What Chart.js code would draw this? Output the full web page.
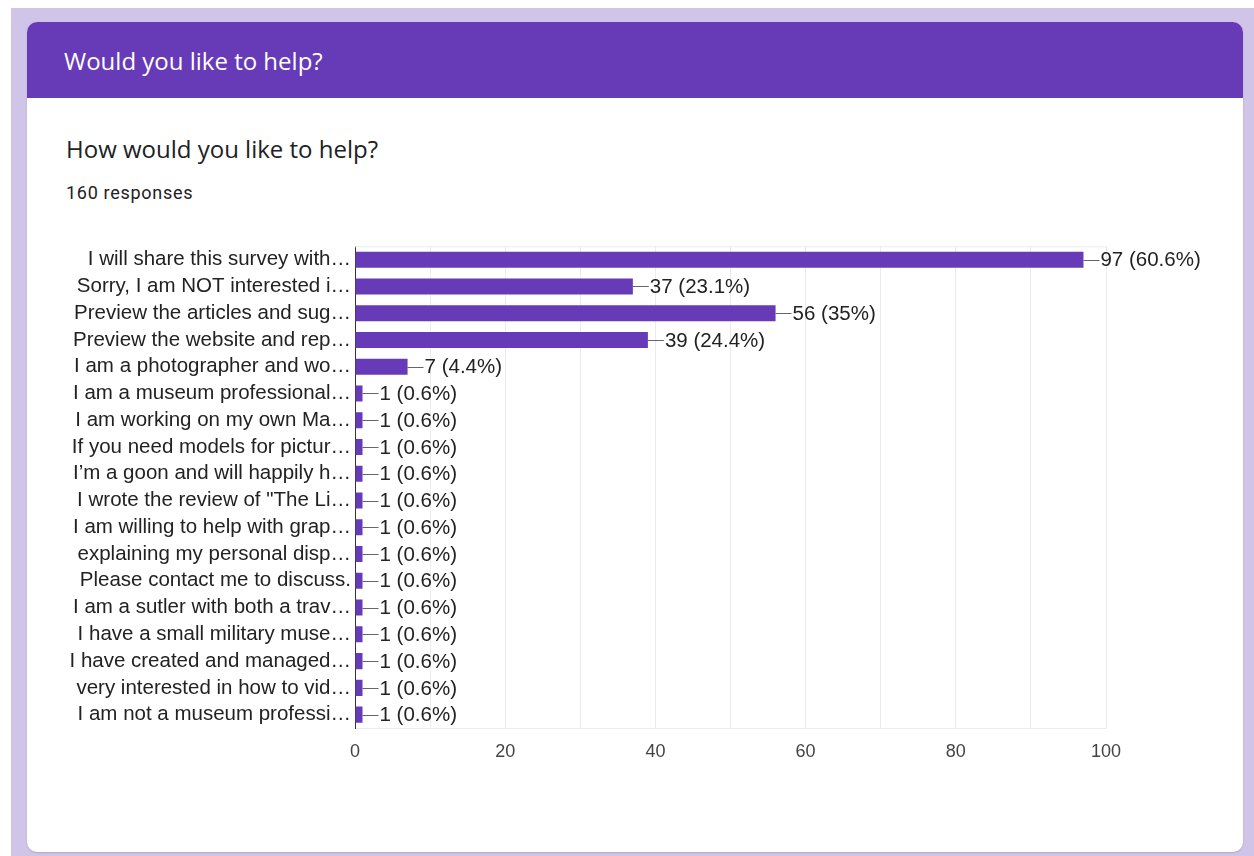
<!DOCTYPE html>
<html><head><meta charset="utf-8">
<script src="https://cdn.jsdelivr.net/npm/chart.js@4"></script>
<style>
html,body{margin:0;padding:0;width:1254px;height:856px;overflow:hidden;background:#fff;}
#bg{position:absolute;left:11px;top:8px;width:1243px;height:848px;background:#d1c4e9;}
#card{position:absolute;left:27px;top:22px;width:1216px;height:830px;background:#fff;border-radius:10px;overflow:hidden;box-shadow:0 1px 2px rgba(0,0,0,0.15);}
#hdr{position:absolute;left:0;top:0;width:100%;height:76px;background:#673ab7;}
#hdr span{position:absolute;left:37px;top:22px;color:#fff;font:24px "Open Sans","Roboto",sans-serif;}
#q{position:absolute;left:39px;top:110px;color:#202124;font:24px "Open Sans","Roboto",sans-serif;}
#r{position:absolute;left:39px;top:160px;color:#202124;font:18px "Roboto",sans-serif;letter-spacing:0.7px;}
#wrap{position:absolute;left:0;top:230px;width:1254px;height:560px;}
</style></head>
<body>
<div id="bg"></div>
<div id="card"><div id="hdr"><span>Would you like to help?</span></div>
<div id="q">How would you like to help?</div>
<div id="r">160 responses</div></div>
<div id="wrap"><canvas id="c" width="1254" height="560"></canvas></div>
<script>
const categories = [
 "I will share this survey with…",
 "Sorry, I am NOT interested i…",
 "Preview the articles and sug…",
 "Preview the website and rep…",
 "I am a photographer and wo…",
 "I am a museum professional…",
 "I am working on my own Ma…",
 "If you need models for pictur…",
 "I’m a goon and will happily h…",
 "I wrote the review of \"The Li…",
 "I am willing to help with grap…",
 "explaining my personal disp…",
 "Please contact me to discuss.",
 "I am a sutler with both a trav…",
 "I have a small military muse…",
 "I have created and managed…",
 "very interested in how to vid…",
 "I am not a museum professi…"
];
const counts = [97,37,56,39,7,1,1,1,1,1,1,1,1,1,1,1,1,1];
const percents = ["60.6%","23.1%","35%","24.4%","4.4%","0.6%","0.6%","0.6%","0.6%","0.6%","0.6%","0.6%","0.6%","0.6%","0.6%","0.6%","0.6%","0.6%"];
const xTicks = [0,20,40,60,80,100];

const valueLabels = {
  id:'valueLabels',
  afterDatasetsDraw(chart){
    const ctx = chart.ctx;
    const meta = chart.getDatasetMeta(0);
    ctx.save();
    meta.data.forEach((bar,i)=>{
      const x = bar.x, y = bar.y;
      ctx.strokeStyle = '#666';
      ctx.lineWidth = 1;
      ctx.beginPath();
      ctx.moveTo(x, Math.round(y)+0.5);
      ctx.lineTo(x+16, Math.round(y)+0.5);
      ctx.stroke();
      ctx.fillStyle = '#222';
      ctx.font = '20.5px "Liberation Sans", Arial, sans-serif';
      ctx.textAlign = 'left';
      ctx.textBaseline = 'middle';
      ctx.fillText(counts[i] + ' (' + percents[i] + ')', x+17, y+1);
    });
    const a = chart.chartArea;
    ctx.strokeStyle = '#ececec';
    ctx.beginPath();
    ctx.moveTo(a.left, a.top+0.5); ctx.lineTo(a.right, a.top+0.5);
    ctx.stroke();
    ctx.restore();
  }
};

new Chart(document.getElementById('c'), {
  type:'bar',
  data:{labels:categories, datasets:[{data:counts, backgroundColor:'#673ab7', borderWidth:0, barPercentage:0.6, categoryPercentage:1}]},
  options:{
    indexAxis:'y', responsive:false, animation:false,
    layout:{padding:{top:15,right:148,left:0,bottom:0}},
    plugins:{legend:{display:false}, tooltip:{enabled:false}},
    scales:{
      x:{min:0,max:100,
        afterFit(s){s.height=62;},
        grid:{color:'#ebebeb', drawTicks:false},
        border:{color:'#ebebeb'},
        ticks:{stepSize:10, padding:13, color:'#444',
          font:{family:'"Liberation Sans", Arial, sans-serif', size:18},
          callback:(v)=> xTicks.includes(v) ? String(v) : ''}
      },
      y:{
        afterFit(s){s.width=355;},
        grid:{display:false, drawTicks:false},
        border:{color:'#333', width:1},
        ticks:{padding:4, color:'#222', autoSkip:false,
          font:{family:'"Liberation Sans", Arial, sans-serif', size:20.5}}
      }
    }
  },
  plugins:[valueLabels]
});
</script>
</body></html>
